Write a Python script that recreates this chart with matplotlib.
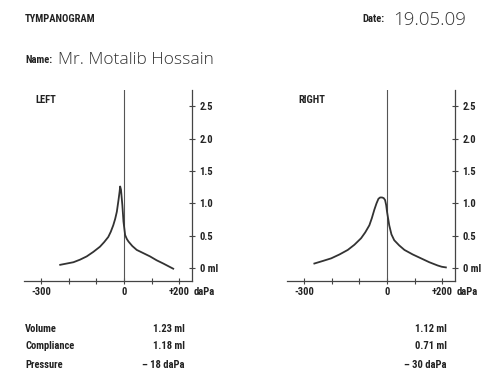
import matplotlib.pyplot as plt

# tympanogram traces (pressure in daPa, volume in ml)
left_p = [-231, -207, -183, -159, -135, -111, -87, -72, -57, -48, -39, -32, -26, -20, -16, -14,
          -11, -6, -2, 4, 10, 16, 30, 46, 70, 94, 118, 142, 160, 178]
left_v = [0.05, 0.07, 0.09, 0.13, 0.18, 0.25, 0.33, 0.40, 0.48, 0.56, 0.66, 0.76, 0.87, 1.05, 1.18, 1.26,
          1.21, 0.97, 0.72, 0.51, 0.45, 0.41, 0.34, 0.28, 0.23, 0.18, 0.12, 0.07, 0.03, -0.01]

right_p = [-263, -232, -202, -172, -142, -118, -94, -79, -64, -55, -46, -38, -31, -25, -18, -12,
           -7, -3, 0, 8, 16, 26, 44, 63, 93, 123, 153, 183, 198, 213]
right_v = [0.07, 0.11, 0.15, 0.21, 0.28, 0.36, 0.46, 0.55, 0.66, 0.77, 0.90, 1.00, 1.07, 1.09, 1.09, 1.08,
           1.05, 0.97, 0.87, 0.66, 0.52, 0.43, 0.35, 0.28, 0.21, 0.15, 0.09, 0.04, 0.02, 0.01]

x_ticks = [-300, -200, -100, 0, 100, 200]
x_labels = ['-300', '', '', '0', '', '+200']
y_ticks = [0, 0.5, 1.0, 1.5, 2.0, 2.5]
y_labels = ['0 ml', '0.5', '1.0', '1.5', '2.0', '2.5']

row_names = ['Volume', 'Compliance', 'Pressure']
left_vals = ['1.23 ml', '1.18 ml', '\u2013 18 daPa']
right_vals = ['1.12 ml', '0.71 ml', '\u2013 30 daPa']

ink = '#222222'
cond = dict(family=['Roboto Condensed', 'Liberation Sans Narrow', 'Roboto', 'DejaVu Sans'],
            fontweight='bold', fontstretch='condensed', color=ink)
hand = dict(family=['Open Sans', 'DejaVu Sans'], fontweight='light', color='#333333')
fs = 7.6

W, H = 490, 382
fig = plt.figure(figsize=(W / 100, H / 100), dpi=100)
fig.patch.set_facecolor('white')


def px(x, y):
    # pixel position (from top-left) to figure fraction
    return x / W, 1 - y / H


def panel(left_px, title, p, v):
    ax = fig.add_axes([left_px / W, 1 - 281 / H, 168 / W, 191 / H])
    ax.set_xlim(-362, 246)
    ax.set_ylim(-0.2, 2.75)
    for s in ['top', 'left']:
        ax.spines[s].set_visible(False)
    for s in ['bottom', 'right']:
        ax.spines[s].set_color('#444444')
        ax.spines[s].set_linewidth(0.9)
    ax.axvline(0, color='#555555', lw=0.8)
    ax.plot(p, v, color='#333333', lw=1.3)
    ax.set_xticks(x_ticks)
    ax.set_xticklabels(x_labels, **cond, fontsize=fs)
    ax.yaxis.tick_right()
    ax.set_yticks(y_ticks)
    ax.set_yticklabels(y_labels, **cond, fontsize=fs)
    ax.tick_params(axis='both', direction='inout', length=5, width=0.8, colors='#444444',
                   labelcolor=ink)
    ax.tick_params(axis='x', pad=2)
    ax.tick_params(axis='y', pad=3)
    ax.annotate('daPa', xy=(200, 0), xycoords=('data', 'axes fraction'),
                xytext=(10, -4.5), textcoords='offset points', ha='left', va='top',
                **cond, fontsize=fs)
    ax.text(0.07, 0.95, title, transform=ax.transAxes, ha='left', va='center',
            **cond, fontsize=fs)
    return ax


panel(24, 'LEFT', left_p, left_v)
panel(287, 'RIGHT', right_p, right_v)

# header
fig.text(*px(25, 19), 'TYMPANOGRAM', ha='left', va='center', **cond, fontsize=fs)
fig.text(*px(25, 60), 'Name:', ha='left', va='center', **cond, fontsize=fs)
fig.text(*px(58, 60), 'Mr. Motalib Hossain', ha='left', va='center', **hand, fontsize=12.5)
fig.text(*px(362, 19), 'Date:', ha='left', va='center', **cond, fontsize=fs)
fig.text(*px(393, 20), '19.05.09', ha='left', va='center', **hand, fontsize=13.5)

# results table
row_y = [329, 346, 365]
for name, lv, rv, y in zip(row_names, left_vals, right_vals, row_y):
    fig.text(*px(25, y), name, ha='left', va='center', **cond, fontsize=fs)
    fig.text(*px(185, y), lv, ha='right', va='center', **cond, fontsize=fs)
    fig.text(*px(447, y), rv, ha='right', va='center', **cond, fontsize=fs)

fig.savefig('out.png', dpi=100, facecolor='white')
